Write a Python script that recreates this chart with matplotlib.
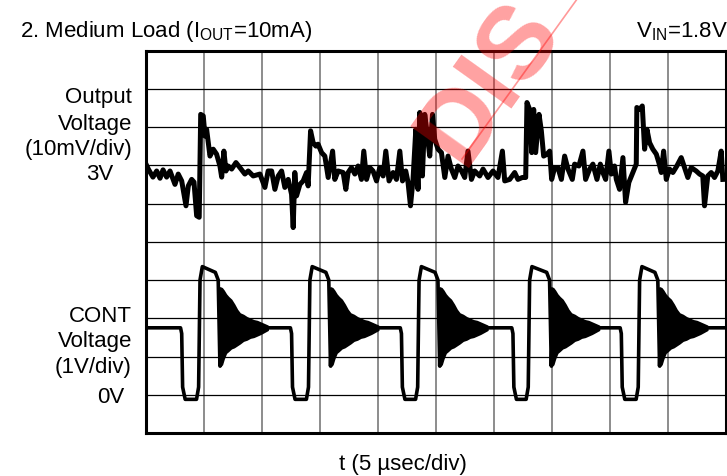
import numpy as np

import matplotlib
matplotlib.use('Agg')  # noqa

import matplotlib.pyplot as plt  # noqa
from matplotlib.lines import Line2D  # noqa

plt.rcParams['font.family'] = ['Liberation Sans', 'DejaVu Sans']
plt.rcParams['mathtext.default'] = 'regular'

# Output voltage, AC coupled around 3V: time [usec], deviation [mV]
vout_t = [
    0.0, 0.20, 0.60, 0.92, 1.21, 1.47, 1.78, 2.07, 2.50, 2.78,
    3.08, 3.45, 3.65, 3.94, 4.14, 4.37, 4.59, 4.72, 4.94, 5.09,
    5.23, 5.52, 5.80, 6.09, 6.38, 6.53, 6.72, 6.90, 7.09, 7.39,
    7.76, 8.10, 8.53, 8.82, 9.25, 9.83, 10.26, 10.54, 10.84, 11.12,
    11.41, 11.70, 11.98, 12.27, 12.56, 12.70, 12.84, 12.99, 13.28, 13.56,
    13.85, 13.99, 14.20, 14.42, 14.66, 14.85, 15.15, 15.43, 15.72, 16.10,
    16.29, 16.58, 17.01, 17.24, 17.44, 17.73, 18.02, 18.30, 18.59, 18.79,
    19.03, 19.31, 19.59, 19.89, 20.17, 20.46, 20.69, 20.97, 21.32, 21.61,
    21.90, 22.13, 22.41, 22.61, 22.82, 23.04, 23.28, 23.47, 23.62, 23.85,
    24.05, 24.25, 24.48, 24.72, 24.91, 25.20, 25.49, 25.78, 26.06, 26.35,
    26.64, 26.92, 27.22, 27.50, 27.78, 28.08, 28.36, 28.79, 29.08, 29.51,
    29.94, 30.37, 30.75, 30.95, 31.38, 31.81, 32.09, 32.47, 32.76, 32.87,
    33.10, 33.28, 33.45, 33.62, 33.91, 34.11, 34.31, 34.60, 34.83, 35.00,
    35.26, 35.54, 35.84, 36.12, 36.41, 36.78, 36.98, 37.35, 37.70, 37.93,
    38.28, 38.56, 38.91, 39.20, 39.42, 39.66, 39.94, 40.15, 40.43, 40.58,
    40.86, 41.15, 41.38, 41.66, 42.01, 42.30, 42.35, 42.59, 42.82, 43.02,
    43.22, 43.45, 43.73, 44.03, 44.25, 44.46, 44.66, 44.89, 45.17, 45.46,
    45.80, 46.18, 46.47, 46.75, 47.04, 47.47, 47.76, 48.04, 48.19, 48.47,
    48.77, 49.05, 49.34, 49.63, 49.77,
]
vout_mv = [
    0.3, -1.0, -3.1, -1.5, -3.4, -1.2, -3.1, -1.5, -5.0, -2.3,
    -4.1, -10.6, -5.4, -3.7, -4.4, -13.2, -13.6, 13.3, 12.9, 7.6,
    9.4, 2.4, 4.2, 2.9, -0.2, -3.1, 3.7, -1.5, -0.2, -1.0,
    0.7, -0.6, -2.3, -1.5, -2.8, -2.3, -5.8, -1.5, -1.5, -6.3,
    -2.8, -1.5, -5.8, -3.7, -7.6, -16.3, -1.9, -8.0, -5.0, -4.1,
    -1.9, -5.4, 9.0, 5.9, 5.0, 5.5, 3.3, 2.4, -3.2, 3.7,
    -3.7, -1.5, -1.9, -6.3, -1.9, -0.6, -2.3, -0.2, -3.7, 3.7,
    -3.7, -0.6, -1.5, -4.1, -0.6, -2.8, 3.7, -4.1, -1.9, -3.7,
    3.7, -4.1, -1.5, -4.5, -10.6, -3.7, 9.4, -6.3, 13.8, -2.8,
    13.3, 8.5, 2.4, 13.3, 6.8, 4.2, 3.3, -3.2, 2.4, -1.0,
    -3.2, -0.2, -1.5, -3.2, 3.7, -3.7, -1.5, -2.8, -1.0, -3.2,
    -1.5, -3.2, 3.7, -4.1, -3.7, -1.9, -3.7, -3.2, -3.2, 16.4,
    14.6, 3.3, 14.6, 3.3, 13.3, 9.0, 2.4, 2.9, 3.7, -3.7,
    -0.6, -0.6, -3.7, 2.4, -1.0, -3.7, 0.3, -0.2, 3.7, -3.7,
    -1.0, 0.3, -3.7, 0.3, -1.9, -3.7, 3.7, -2.3, -0.2, -3.7,
    -6.3, 2.0, -9.7, -4.5, -1.9, 0.3, 15.1, 14.6, 15.5, 4.2,
    9.4, 5.9, 4.2, 2.9, 0.7, -1.9, 3.7, -3.7, -1.0, -1.9,
    -0.2, 2.0, -0.6, -3.2, -0.6, -1.5, -2.3, -2.8, -10.6, -2.8,
    -1.9, -3.2, -1.5, 3.7, -3.7,
]

# CONT pin: edge times [usec] of the five switching cycles
cont_fall_low = [3.08, 12.56, 22.04, 31.66, 41.01]
cont_rise_high = [4.66, 14.14, 23.56, 33.10, 42.59]
cont_fall_high = [6.38, 15.92, 25.34, 34.97, 44.31]
cont_idle_v = 1.75
cont_low_v = -0.12
cont_high_v = [3.35, 3.20]

# ringing envelope after each turn-off, time measured from the falling edge
ring_dt = [0.0, 0.15, 0.3, 0.5, 0.7, 0.95, 1.2, 1.45, 1.7, 2.0,
           2.3, 2.6, 2.9, 3.2, 3.5, 3.8, 4.1]
ring_hi = [2.80, 2.78, 2.72, 2.62, 2.55, 2.48, 2.36, 2.22, 2.12, 2.08,
           2.02, 1.98, 1.94, 1.92, 1.88, 1.84, 1.80]
ring_lo = [0.75, 0.80, 0.95, 1.10, 1.15, 1.22, 1.25, 1.30, 1.35, 1.42,
           1.45, 1.50, 1.52, 1.56, 1.60, 1.65, 1.70]

# scope settings
T_END = 50.0          # 10 div x 5 usec
VOUT_ZERO_DIV = 7     # 3V reference
VOUT_MV_PER_DIV = 10
CONT_ZERO_DIV = 1     # 0V reference
CONT_V_PER_DIV = 1


def cont_trace():
    t, v = [0.0], [cont_idle_v]
    for fl, rh, fh in zip(cont_fall_low, cont_rise_high, cont_fall_high):
        t += [fl - 0.1, fl, fl + 0.08, fl + 0.3, rh - 0.3, rh - 0.12, rh,
              rh + 0.2, fh - 0.4, fh - 0.15, fh, fh + 0.1]
        v += [cont_idle_v, 1.6, 0.2, cont_low_v, cont_low_v, 0.2, 3.0,
              cont_high_v[0], cont_high_v[1], 3.0, ring_lo[0], cont_idle_v]
    t.append(T_END)
    v.append(cont_idle_v)
    return np.array(t), np.array(v)


def main():
    fig = plt.figure(figsize=(7.27, 4.77), dpi=100)
    ax = fig.add_axes([146 / 727, 43 / 477, 579.5 / 727, 382.5 / 477])

    ax.set_xlim(0, T_END)
    ax.set_ylim(0, 10)
    ax.set_xticks(np.arange(0, T_END + 1, 5))
    ax.set_yticks(np.arange(0, 11))
    ax.tick_params(length=0, labelbottom=False, labelleft=False)
    ax.xaxis.grid(True, color='#6e6e6e', lw=1.1)
    ax.yaxis.grid(True, color='black', lw=0.9)
    ax.set_axisbelow(True)
    for sp in ax.spines.values():
        sp.set_linewidth(2.2)

    # output voltage trace
    vout_div = VOUT_ZERO_DIV + np.array(vout_mv) / VOUT_MV_PER_DIV
    ax.plot(vout_t, vout_div, color='black', lw=3.6, solid_joinstyle='round')

    # CONT trace
    ct, cv = cont_trace()
    ax.plot(ct, CONT_ZERO_DIV + cv / CONT_V_PER_DIV, color='black', lw=2.6,
            solid_joinstyle='round')
    for fh in cont_fall_high:
        ax.fill_between(fh + np.array(ring_dt),
                        CONT_ZERO_DIV + np.array(ring_lo) / CONT_V_PER_DIV,
                        CONT_ZERO_DIV + np.array(ring_hi) / CONT_V_PER_DIV,
                        color='black', lw=1.5)

    # labels
    fs = 16
    fig.text(20 / 727, 1 - 37 / 477, '2. Medium Load (I$_{OUT}$=10mA)',
             fontsize=fs, va='baseline')
    fig.text(636 / 727, 1 - 37 / 477, 'V$_{IN}$=1.8V', fontsize=fs,
             va='baseline')
    left = [('Output', 103), ('Voltage', 130), ('(10mV/div)', 155),
            ('CONT', 322), ('Voltage', 347), ('(1V/div)', 373)]
    for s, y in left:
        fig.text(132 / 727, 1 - y / 477, s, fontsize=fs, ha='right',
                 va='baseline')
    fig.text(100 / 727, 1 - 180 / 477, '3V', fontsize=fs, ha='center',
             va='baseline')
    fig.text(111 / 727, 1 - 403 / 477, '0V', fontsize=fs, ha='center',
             va='baseline')
    fig.text(403 / 727, 1 - 470 / 477, 't (5 \u00b5sec/div)', fontsize=fs,
             ha='center', va='baseline')

    # watermark
    fig.text(462 / 727, 1 - 168 / 477, 'DIS', fontsize=74, fontweight='bold',
             color='red', alpha=0.37, rotation=54.5, rotation_mode='anchor',
             ha='left', va='baseline', zorder=5)
    fig.add_artist(Line2D([462 / 727, 580 / 727], [1 - 160 / 477, 1 + 4 / 477],
                          transform=fig.transFigure, color='red', alpha=0.4,
                          lw=1.2, zorder=5))

    fig.savefig('out.png', dpi=100)


if __name__ == '__main__':
    main()
